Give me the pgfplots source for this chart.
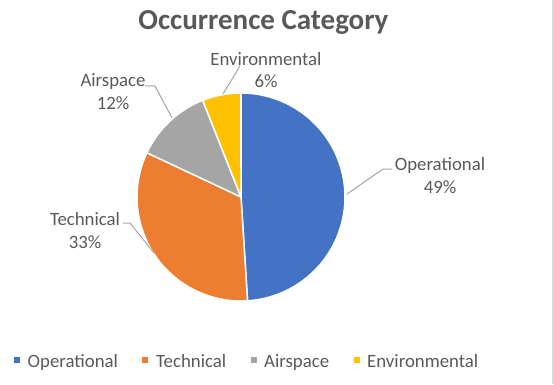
\documentclass[border=0pt]{standalone}
\usepackage{pgfplots}
\usepackage{pgfplotstable}
\pgfplotsset{compat=1.18}
\usepackage{fontspec}
\setmainfont{Carlito}
\definecolor{cOp}{HTML}{4472C4}
\definecolor{cTe}{HTML}{ED7D31}
\definecolor{cAi}{HTML}{A5A5A5}
\definecolor{cEn}{HTML}{FFC000}
\definecolor{txt}{HTML}{595959}
\definecolor{lead}{HTML}{A6A6A6}
\definecolor{edge}{HTML}{D9D9D9}
\pgfplotstableread{
name value
Operational 49
Technical 33
Airspace 12
Environmental 6
}\datatable
\begin{document}%
\begin{tikzpicture}[x=1pt,y=1pt]
\pgfplotstablegetelem{0}{value}\of\datatable\let\vA\pgfplotsretval
\pgfplotstablegetelem{1}{value}\of\datatable\let\vB\pgfplotsretval
\pgfplotstablegetelem{2}{value}\of\datatable\let\vC\pgfplotsretval
\pgfplotstablegetelem{3}{value}\of\datatable\let\vD\pgfplotsretval
\pgfmathsetmacro\tot{\vA+\vB+\vC+\vD}
\pgfmathsetmacro\aZ{90}
\pgfmathsetmacro\aA{90-\vA/\tot*360}
\pgfmathsetmacro\aB{\aA-\vB/\tot*360}
\pgfmathsetmacro\aC{\aB-\vC/\tot*360}
\pgfmathsetmacro\aD{\aC-\vD/\tot*360}
\useasboundingbox (0,0) rectangle (554,384);
\fill[edge] (551.8,0) rectangle (554,384);
\begin{axis}[hide axis, x=1pt, y=1pt, xmin=0, xmax=554, ymin=0, ymax=384,
  anchor=south west, at={(0,0)}, clip=false, scale only axis]
\addplot[fill=cOp, draw=white, line width=1.5pt, domain=\aA:\aZ, samples=90, variable=\t]
  ({241+104*cos(\t)},{187+104*sin(\t)}) -- (axis cs:241,187) -- cycle;
\addplot[fill=cTe, draw=white, line width=1.5pt, domain=\aB:\aA, samples=70, variable=\t]
  ({241+104*cos(\t)},{187+104*sin(\t)}) -- (axis cs:241,187) -- cycle;
\addplot[fill=cAi, draw=white, line width=1.5pt, domain=\aC:\aB, samples=30, variable=\t]
  ({241+104*cos(\t)},{187+104*sin(\t)}) -- (axis cs:241,187) -- cycle;
\addplot[fill=cEn, draw=white, line width=1.5pt, domain=\aD:\aC, samples=20, variable=\t]
  ({241+104*cos(\t)},{187+104*sin(\t)}) -- (axis cs:241,187) -- cycle;
% leader lines
\draw[lead, line width=1pt] (axis cs:347,190) -- (axis cs:383,215) -- (axis cs:392,215);
\draw[lead, line width=1pt] (axis cs:154,131) -- (axis cs:130,161) -- (axis cs:123,161);
\draw[lead, line width=1pt] (axis cs:172,266) -- (axis cs:155,298) -- (axis cs:145,298);
\draw[lead, line width=1pt] (axis cs:223,290) -- (axis cs:240,318);
\end{axis}
% title
\node[anchor=base, text=txt, font=\fontsize{29}{33}\selectfont\bfseries, inner sep=0] at (263.5,355) {Occurrence Category};
% data labels
\begin{scope}[every node/.style={anchor=base, text=txt, font=\fontsize{18.8}{22}\selectfont, inner sep=0}]
\node at (266,319) {Environmental};
\node at (266,297) {6\%};
\node at (113,298) {Airspace};
\node at (113,275) {12\%};
\node at (440,214) {Operational};
\node at (440,191) {49\%};
\node at (85,159) {Technical};
\node at (85,136) {33\%};
\end{scope}
% legend
\begin{scope}[every node/.style={anchor=base west, text=txt, font=\fontsize{18.8}{22}\selectfont, inner sep=0}]
\fill[cOp] (14,21) rectangle (20,27);
\node at (27.5,17) {Operational};
\fill[cTe] (142,21) rectangle (148,27);
\node at (156,17) {Technical};
\fill[cAi] (251,21) rectangle (257,27);
\node at (264,17) {Airspace};
\fill[cEn] (354,21) rectangle (360,27);
\node at (367,17) {Environmental};
\end{scope}
\end{tikzpicture}%
\end{document}
